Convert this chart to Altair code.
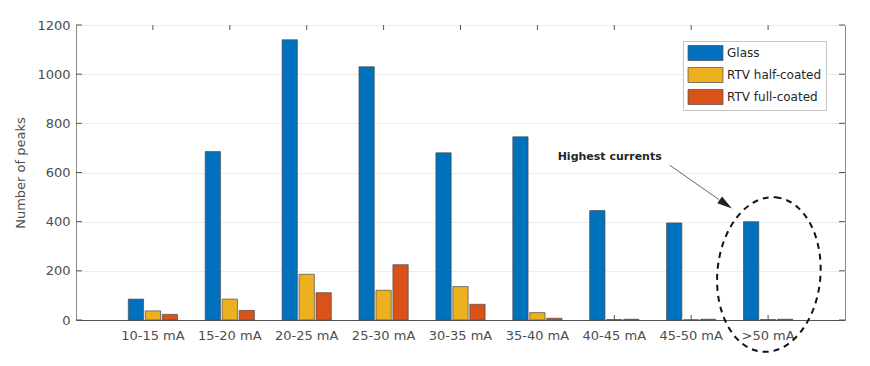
import altair as alt
import pandas as pd

categories = ["10-15 mA", "15-20 mA", "20-25 mA", "25-30 mA", "30-35 mA",
              "35-40 mA", "40-45 mA", "45-50 mA", ">50 mA"]
series = ["Glass", "RTV half-coated", "RTV full-coated"]
glass = [85, 685, 1140, 1030, 680, 745, 445, 395, 400]
half_coated = [37, 85, 186, 121, 136, 30, 2, 1, 2]
full_coated = [23, 39, 111, 225, 64, 7, 3, 3, 3]
colors = ["#0072BD", "#EDB120", "#D95319"]
y_ticks = [0, 200, 400, 600, 800, 1000, 1200]

# annotation anchors (x in group-index units 0..10, y in data units)
note_text = ["Highest currents"]
note_x = [6.94]
note_y = [665]
arrow_x = [7.72]
arrow_y = [630]
arrow_x2 = [8.36]
arrow_y2 = [490]
head_x = [8.53]
head_y = [454]
ellipse_x = [9.01]
ellipse_y = [185]

rows = []
for s, vals in zip(series, [glass, half_coated, full_coated]):
    for c, v in zip(categories, vals):
        rows.append({"category": c, "series": s, "count": v})
df = pd.DataFrame(rows)
df_cat = pd.DataFrame({"category": categories})
df_y = pd.DataFrame({"v": y_ticks})

W, H = 769, 295
FONT = "DejaVu Sans"

xscale = alt.Scale(domain=categories, paddingInner=0.36, paddingOuter=0.68)
yscale = alt.Scale(domain=[0, 1200], nice=False)
xlin = alt.Scale(domain=[0, 10], nice=False, zero=False)
y_axis = alt.Axis(title="Number of peaks", values=y_ticks, format="d", tickSize=0,
                  labelPadding=6, titlePadding=9, grid=True,
                  gridColor="#ededed", domainColor="#8a8a8a")


def Y(field):
    return alt.Y(field, scale=yscale, axis=y_axis)


bars = alt.Chart(df).mark_bar(stroke="#4a4a4a", strokeWidth=0.7).encode(
    x=alt.X("category:N", scale=xscale, sort=categories,
            axis=alt.Axis(title=None, labelAngle=0, tickSize=0, labelPadding=9,
                          domainColor="#555555", labelFontSize=13)),
    xOffset=alt.XOffset("series:N", sort=series,
                        scale=alt.Scale(domain=series, paddingInner=0.1, paddingOuter=0)),
    y=Y("count:Q"),
    color=alt.Color("series:N", scale=alt.Scale(domain=series, range=colors),
                    legend=alt.Legend(orient="none", legendX=607, legendY=16, title=None,
                                      symbolType="M-2.33,-1H2.33V1H-2.33Z", symbolSize=225,
                                      symbolStrokeColor="#4a4a4a", symbolStrokeWidth=0.7,
                                      symbolOffset=10.5, labelOffset=13.5, padding=4,
                                      rowPadding=4, strokeColor="#c4c4c4", fillColor="white",
                                      labelFont=FONT, labelFontSize=12, labelColor="#262626",
                                      symbolOpacity=1)),
)

top_ticks = alt.Chart(df_cat).mark_rule(color="#555555").encode(
    x=alt.X("category:N", scale=xscale, sort=categories, axis=None),
    y=alt.value(0), y2=alt.value(5))
bottom_ticks = alt.Chart(df_cat).mark_rule(color="#555555").encode(
    x=alt.X("category:N", scale=xscale, sort=categories, axis=None),
    y=alt.value(H - 5), y2=alt.value(H))
left_ticks = alt.Chart(df_y).mark_rule(color="#555555").encode(
    y=Y("v:Q"), x=alt.value(0), x2=alt.value(6))
right_ticks = alt.Chart(df_y).mark_rule(color="#555555").encode(
    y=Y("v:Q"), x=alt.value(W - 6), x2=alt.value(W))

note = alt.Chart(pd.DataFrame({"t": note_text, "x": note_x, "y": note_y})).mark_text(
    font=FONT, fontSize=11, fontWeight="bold", color="#262626", align="center",
    baseline="middle").encode(
    x=alt.X("x:Q", scale=xlin, axis=None),
    y=Y("y:Q"), text="t:N")

arrow = alt.Chart(pd.DataFrame({"x": arrow_x, "y": arrow_y, "x2": arrow_x2, "y2": arrow_y2})).mark_rule(
    color="#666666", strokeWidth=1).encode(
    x=alt.X("x:Q", scale=xlin, axis=None), x2="x2:Q",
    y=Y("y:Q"), y2="y2:Q")

head = alt.Chart(pd.DataFrame({"x": head_x, "y": head_y})).mark_point(
    shape="M0,0L-2,-0.55L-2,0.55Z", size=225, filled=True, color="#222222",
    opacity=1, angle=35).encode(
    x=alt.X("x:Q", scale=xlin, axis=None),
    y=Y("y:Q"))

ellipse = alt.Chart(pd.DataFrame({"x": ellipse_x, "y": ellipse_y})).mark_point(
    shape="M0,-1A0.665,1 0 1,1 0,1A0.665,1 0 1,1 0,-1Z", size=24025, filled=False,
    stroke="#111111", strokeWidth=2, strokeDash=[6, 5], opacity=1, angle=5).encode(
    x=alt.X("x:Q", scale=xlin, axis=None),
    y=Y("y:Q"))

chart = alt.layer(
    top_ticks, bottom_ticks, left_ticks, right_ticks, bars, note, arrow, head, ellipse
).resolve_scale(x="independent").properties(
    width=W, height=H,
    padding={"left": 6, "top": 11, "right": 5, "bottom": 5},
).configure_view(
    stroke="#8c8c8c", strokeWidth=1
).configure_axis(
    labelFont=FONT, labelFontSize=13, labelColor="#4d4d4d",
    titleFont=FONT, titleFontSize=13, titleFontWeight="normal", titleColor="#4d4d4d",
)

chart.save("out.html", embed_options={"renderer": "svg", "actions": False})
